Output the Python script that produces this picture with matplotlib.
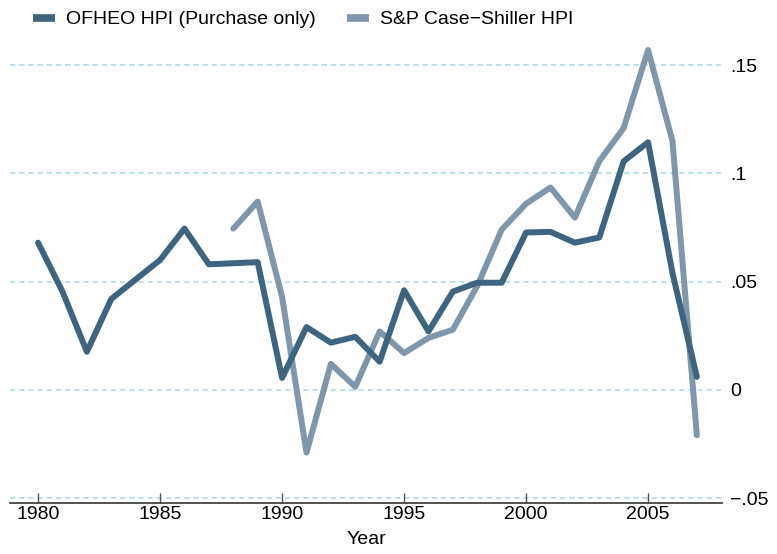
import numpy as np
import matplotlib.pyplot as plt
from matplotlib.lines import Line2D

plt.rcParams['font.family'] = ['Liberation Sans', 'DejaVu Sans']

# data
years_ofheo = list(range(1980, 2008))
ofheo = [0.068, 0.0454, 0.0176, 0.042, 0.051, 0.060, 0.0745, 0.058, 0.0585, 0.059,
         0.0055, 0.029, 0.0218, 0.0245, 0.013, 0.046, 0.027, 0.0454, 0.0495, 0.0495,
         0.0727, 0.073, 0.068, 0.0704, 0.1056, 0.1144, 0.054, 0.006]

years_cs = list(range(1988, 2008))
case_shiller = [0.0745, 0.087, 0.043, -0.029, 0.012, 0.0014, 0.027, 0.017, 0.024, 0.0278,
                0.048, 0.074, 0.086, 0.0935, 0.0796, 0.1056, 0.121, 0.157, 0.115, -0.021]

yticks = [-0.05, 0, 0.05, 0.1, 0.15]
ytick_labels = ['\u2212.05', '0', '.05', '.1', '.15']
xticks = [1980, 1985, 1990, 1995, 2000, 2005]

c_ofheo = '#3e6480'
c_cs = '#7f96ab'
fs = 14

fig = plt.figure(figsize=(7.77, 5.54), dpi=100)
ax = fig.add_axes([0.0129, 0.092, 0.9163, 0.845])

for y in yticks:
    ax.axhline(y, color='#a8d8e8', lw=1.1, ls=(0, (3.5, 2.5)), zorder=0)

ax.plot(years_ofheo, ofheo, color=c_ofheo, lw=4.3, solid_capstyle='round', zorder=3)
ax.plot(years_cs, case_shiller, color=c_cs, lw=4.3, solid_capstyle='round', zorder=2)

ax.set_xlim(1978.85, 2008.03)
ax.set_ylim(-0.0523, 0.164)

ax.set_xticks(xticks)
ax.set_xticklabels([str(x) for x in xticks], fontsize=fs)
ax.tick_params(axis='x', direction='in', length=7, width=1, color='#555555', pad=2)

ax.yaxis.tick_right()
ax.set_yticks(yticks)
ax.set_yticklabels(ytick_labels, fontsize=fs)
ax.tick_params(axis='y', length=0, pad=6)

for s in ['top', 'left', 'right']:
    ax.spines[s].set_visible(False)
ax.spines['bottom'].set_color('#444444')
ax.spines['bottom'].set_linewidth(1.3)

ax.set_xlabel('Year', fontsize=fs, labelpad=6)

handles = [Line2D([0], [0], color=c_ofheo, lw=5.5, solid_capstyle='butt'),
           Line2D([0], [0], color=c_cs, lw=5.5, solid_capstyle='butt')]
fig.legend(handles, ['OFHEO HPI (Purchase only)', 'S&P Case\u2212Shiller HPI'],
           loc='upper left', bbox_to_anchor=(0.02, 1.012), ncol=2, frameon=False,
           fontsize=fs, handlelength=1.15, columnspacing=1.6, handletextpad=0.55)

fig.savefig('out.png', dpi=100)
